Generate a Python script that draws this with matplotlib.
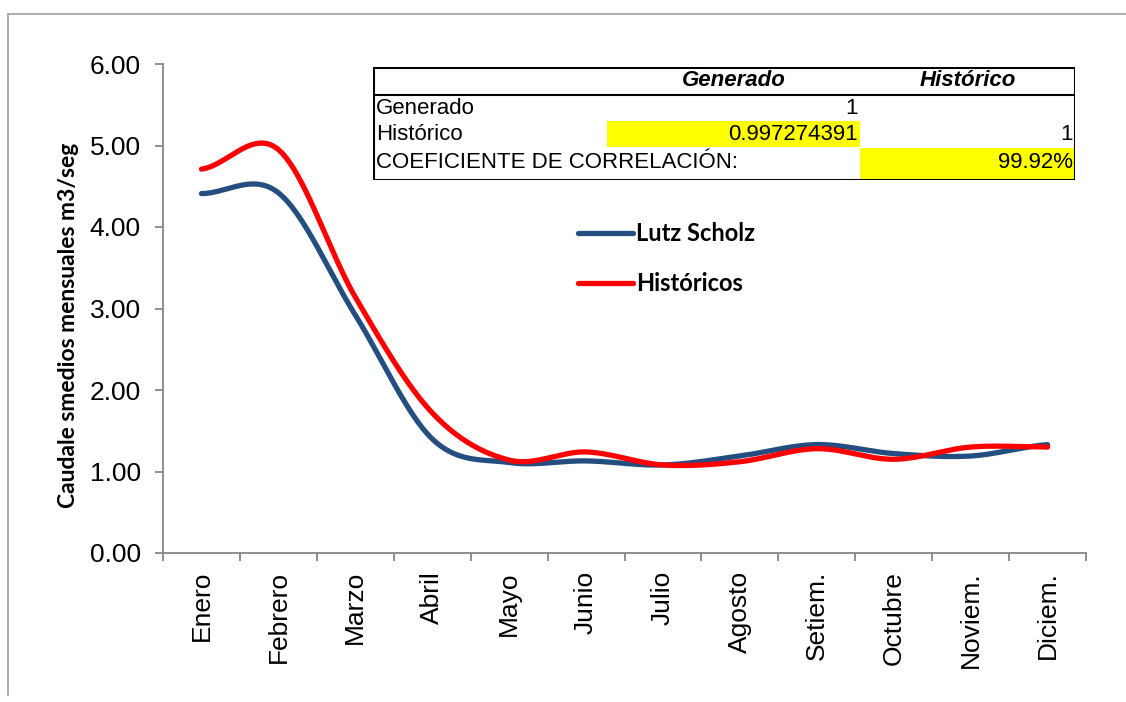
import matplotlib
matplotlib.use("Agg")
import matplotlib.pyplot as plt
import numpy as np
from matplotlib.lines import Line2D
from matplotlib.patches import Rectangle

# monthly mean flows (m3/s)
meses = ["Enero", "Febrero", "Marzo", "Abril", "Mayo", "Junio", "Julio",
         "Agosto", "Setiem.", "Octubre", "Noviem.", "Diciem."]
lutz_scholz = [4.41, 4.42, 2.92, 1.40, 1.11, 1.13, 1.08, 1.19, 1.33, 1.22, 1.19, 1.33]
historicos = [4.71, 4.95, 3.14, 1.72, 1.14, 1.24, 1.08, 1.12, 1.28, 1.15, 1.30, 1.30]

# correlation summary table
tabla_cols = ["Generado", "Histórico"]
tabla_filas = ["Generado", "Histórico", "COEFICIENTE DE CORRELACIÓN:"]
tabla_vals = [["1", ""], ["0.997274391", "1"], ["", "99.92%"]]

azul = "#254E80"
rojo = "#FF0000"
gris = "#868686"


def suavizar(y, n=40):
    # Catmull-Rom style smoothing between consecutive points
    y = np.asarray(y, dtype=float)
    p = np.concatenate(([y[0]], y, [y[-1]]))
    xs, ys = [], []
    for i in range(len(y) - 1):
        p0, p1, p2, p3 = p[i], p[i + 1], p[i + 2], p[i + 3]
        t = np.linspace(0, 1, n, endpoint=(i == len(y) - 2))
        m1 = (p2 - p0) / 2
        m2 = (p3 - p1) / 2
        h00 = 2 * t**3 - 3 * t**2 + 1
        h10 = t**3 - 2 * t**2 + t
        h01 = -2 * t**3 + 3 * t**2
        h11 = t**3 - t**2
        xs.append(i + t)
        ys.append(h00 * p1 + h10 * m1 + h01 * p2 + h11 * m2)
    return np.concatenate(xs), np.concatenate(ys)


fig = plt.figure(figsize=(11.26, 7.02), dpi=100)
ax = fig.add_axes([163 / 1126, 1 - 553 / 702, (1086 - 163) / 1126, (553 - 64) / 702])

x1, y1 = suavizar(lutz_scholz)
x2, y2 = suavizar(historicos)
ax.plot(x1, y1, color=azul, lw=3.8, solid_capstyle="round", label="Lutz Scholz")
ax.plot(x2, y2, color=rojo, lw=3.8, solid_capstyle="round", label="Históricos")

ax.set_xlim(-0.5, len(meses) - 0.5)
ax.set_ylim(0, 6)
ax.set_yticks(np.arange(0, 7, 1))
ax.set_yticklabels([f"{v:.2f}" for v in np.arange(0, 7, 1)], fontsize=19, family="Liberation Sans")
ax.set_xticks(range(len(meses)))
ax.set_xticklabels(meses, rotation=90, fontsize=19, family="Liberation Sans", va="top")
ax.set_xticks(np.arange(-0.5, len(meses), 1), minor=True)
ax.tick_params(axis="x", which="major", length=0, pad=13)
ax.tick_params(axis="x", which="minor", length=6, width=1.3, color=gris)
ax.tick_params(axis="y", length=6, width=1.3, color=gris, pad=10)

for s in ["top", "right"]:
    ax.spines[s].set_visible(False)
for s in ["left", "bottom"]:
    ax.spines[s].set_color(gris)
    ax.spines[s].set_linewidth(1.3)

ax.set_ylabel("Caudale smedios mensuales m3/seg", fontsize=16.5, fontweight="bold", family="Lato")
ax.yaxis.set_label_coords(-0.091, 0.465)

leg = ax.legend(loc="upper left", bbox_to_anchor=(557 / 1126, 1 - 201 / 702),
                bbox_transform=fig.transFigure, frameon=False,
                prop={"family": "Lato", "weight": "bold", "size": 17},
                handlelength=2.3, handletextpad=0.15, labelspacing=1.13)

# outer chart frame
fig.add_artist(Line2D([8 / 1126, 8 / 1126], [1 - 14 / 702, 1 - 695 / 702], color="#A6A6A6", lw=1.3))
fig.add_artist(Line2D([8 / 1126, 1.0], [1 - 14 / 702, 1 - 14 / 702], color="#A6A6A6", lw=1.3))

# correlation table
tx = fig.add_axes([373 / 1126, 1 - 180 / 702, (1075 - 373) / 1126, (180 - 67) / 702])
tx.set_xlim(373, 1075)
tx.set_ylim(180, 67)
tx.axis("off")
col_bordes = [373, 607, 860, 1075]
fila_y = [81, 108, 134, 162]
tx.add_patch(Rectangle((607, 121), 253, 26, color="#FFFF00", lw=0))
tx.add_patch(Rectangle((860, 148), 215, 31, color="#FFFF00", lw=0))
tx.add_patch(Rectangle((373, 67), 702, 113, fill=False, ec="black", lw=2.2))
tx.plot([373, 1075], [95, 95], color="black", lw=1.5)
fnt = dict(family="Liberation Sans", fontsize=16)
for j, c in enumerate(tabla_cols):
    tx.text((col_bordes[j + 1] + col_bordes[j + 2]) / 2, fila_y[0], c, ha="center", va="center",
            fontweight="bold", style="italic", **fnt)
for i, f in enumerate(tabla_filas):
    tx.text(col_bordes[0] + 3, fila_y[i + 1], f, ha="left", va="center", **fnt)
    for j, v in enumerate(tabla_vals[i]):
        if v:
            tx.text(col_bordes[j + 2] - 2, fila_y[i + 1], v, ha="right", va="center", **fnt)

fig.savefig("out.png", dpi=100)
